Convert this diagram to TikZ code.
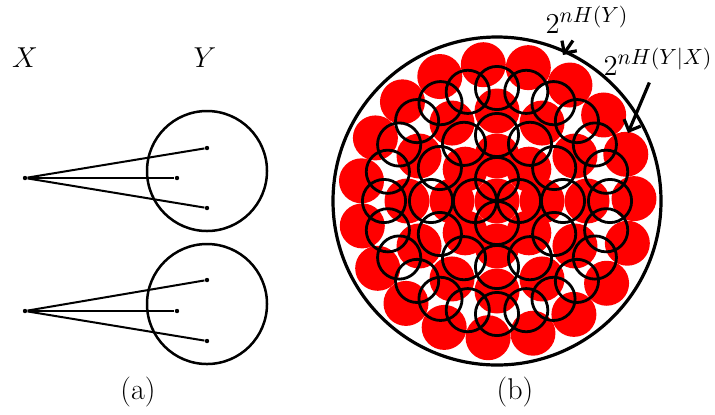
\documentclass[tikz,border=0pt]{standalone}
\usepackage{tikz}
\usetikzlibrary{positioning, arrows.meta}
\tikzset{
  >=Stealth,
  dot/.style={circle,fill=black,inner sep=0,minimum size=2.2pt},
  set/.style={draw,circle,line width=1.25pt,minimum size=60pt},
  fan/.style={line width=1pt},
  ball/.style={line width=1.4pt},
  ptr/.style={-{Straight Barb[length=4.5pt,width=9pt]},line width=1.6pt}
}

\begin{document}
\begin{tikzpicture}[x=0.5pt, y=-0.5pt, every node/.style={font=\fontsize{15}{18}\selectfont}]
  \useasboundingbox (0,0) rectangle (715,414);

  % (a): two inputs, each spread over a set of outputs
  \node (lx) at (25,58) {$X$};
  \node (ly) at (205,58) {$Y$};

  \node[dot] (s1) at (25,178) {};
  \node[set] (y1) at (207,171) {};
  \node[dot] (e11) at (207,148) {};
  \node[dot] (e12) at (177,178) {};
  \node[dot] (e13) at (207,208) {};

  \node[dot] (s2) at (25,311) {};
  \node[set] (y2) at (207,304) {};
  \node[dot] (e21) at (207,280) {};
  \node[dot] (e22) at (177,311) {};
  \node[dot] (e23) at (207,341) {};

  \foreach \i in {1,2}
    \foreach \j in {1,2,3}
      \draw[fan] (s\i) -- (e\i\j);

  \node (la) at (138,392) {(a)};

  % (b): packing of the small sets in the big one
  \coordinate (c) at (497,201);
  \begin{scope}[shift={(c)}]
    \foreach \r/\n/\o in {0/1/0, 45/8/0, 90/12/0, 137/19/-1}
      \foreach \k in {1,...,\n}
        \fill[red] ({\o+\k*360/\n}:\r) circle (11.25pt);
    \foreach \r/\n/\o in {22/4/0, 66/12/0, 113/24/0}
      \foreach \k in {1,...,\n}
        \draw[ball] ({\o+\k*360/\n}:\r) circle (10.8pt);
  \end{scope}
  \node[draw,circle,line width=1.6pt,minimum size=164pt] (big) at (c) {};

  \node (hy) at (587,20) {$2^{nH(Y)}$};
  \coordinate (hytip) at (563,55);
  \draw[ptr] (hy) -- (hytip);

  \node (hyx) at (658,62) {$2^{nH(Y|X)}$};
  \coordinate (hyxtip) at (628,133);
  \draw[ptr] (hyx) -- (hyxtip);

  \node (lb) at (515,392) {(b)};
\end{tikzpicture}
\end{document}
